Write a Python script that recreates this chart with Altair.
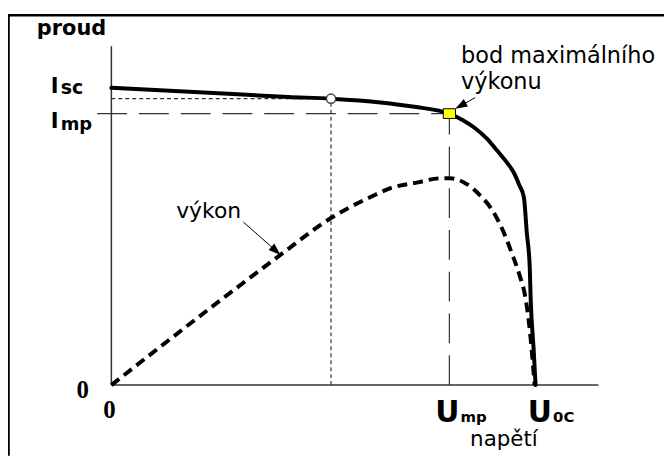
import altair as alt
import pandas as pd

# ---------------- data (schematic units: napětí 0..100, proud 0..100) ----------------
# I-V characteristic (solid curve)
iv_u = [0, 18.0, 36.3, 45.1, 55.3, 62.2, 69.4, 72.0, 74.5, 77.1, 79.2, 81.2, 82.7, 83.7, 84.7, 85.3, 85.9, 86.1, 86.7, 87.1]
iv_i = [87.7, 86.4, 85.0, 84.5, 83.4, 82.1, 80.1, 78.3, 76.0, 72.7, 69.2, 65.7, 62.5, 59.2, 55.4, 44.9, 34.9, 25.2, 10.6, 0.0]

# power curve (dashed curve)
pw_u = [0, 23.1, 34.7, 45.1, 48.6, 53.1, 57.3, 62.9, 67.6, 69.6, 72.4, 75.7, 78.6, 80.6, 82.2, 83.9, 84.9, 85.9, 86.9]
pw_p = [0, 25.8, 38.4, 49.3, 52.2, 55.4, 58.1, 59.8, 61.0, 61.0, 59.8, 56.0, 50.7, 44.9, 39.0, 32.0, 26.7, 16.4, 0.0]

# special points
U_MP, I_MP = 69.4, 80.1      # bod maximálního výkonu
U_DOT, I_DOT = 45.1, 84.5    # open circle on the curve
AXIS_END = 100

# arrows: tail (u, v) -> head centre (u, v), head angle (deg)
arrow_u = [74.7, 27.1]
arrow_v = [84.8, 48.1]
arrow_u2 = [71.7, 33.8]
arrow_v2 = [82.4, 39.6]
arrow_angle = [241, 132]

# text labels
word_text = ["bod maximálního", "výkonu", "výkon"]
word_u = [71.8, 71.8, 13.3]
word_v = [94.9, 87.5, 49.3]

main_sym = ["I", "I"]
main_sym_u = [-12.45, -12.45]
main_sym_v = [86.2, 75.7]
sub_sym = ["sc", "mp"]
sub_sym_u = [-10.4, -10.4]
sub_sym_v = [85.9, 75.4]

u_sym = ["U", "U"]
u_sym_u = [66.5, 85.5]
u_sym_v = [-10.85, -10.85]
u_sub = ["mp", "0C"]
u_sub_u = [71.7, 90.7]
u_sub_v = [-10.85, -10.85]

zero_text = ["0", "0"]
zero_u = [-5.9, -0.4]
zero_v = [-1.5, -7.5]

# ---------------- layout ----------------
W, H = 660, 449
x_dom = [-104 / 4.9, (W - 104) / 4.9]
y_dom = [(378 - H) / 3.41, 378 / 3.41]
xs = alt.Scale(domain=x_dom, nice=False, zero=False)
ys = alt.Scale(domain=y_dom, nice=False, zero=False)


def X(f="u"):
    return alt.X(f"{f}:Q", scale=xs, axis=None)


def Y(f="v"):
    return alt.Y(f"{f}:Q", scale=ys, axis=None)


def rules(u, u2, v, v2, **kw):
    df = pd.DataFrame({"u": u, "u2": u2, "v": v, "v2": v2})
    return alt.Chart(df).mark_rule(**kw).encode(
        x=X(), x2=alt.X2("u2:Q"), y=Y(), y2=alt.Y2("v2:Q"))


def label(texts, us, vs, size, weight="normal", font="DejaVu Sans", align="left", baseline="alphabetic"):
    df = pd.DataFrame({"t": texts, "u": us, "v": vs})
    return alt.Chart(df).mark_text(
        align=align, baseline=baseline, fontSize=size, fontWeight=weight,
        font=font, color="black").encode(x=X(), y=Y(), text="t:N")


one = pd.DataFrame({"a": [0]})
frame_top = alt.Chart(one).mark_rule(color="black", strokeWidth=2.6).encode(
    x=alt.value(0), x2=alt.value(W), y=alt.value(6))
frame_left = alt.Chart(one).mark_rule(color="black", strokeWidth=2.6).encode(
    x=alt.value(0.5), y=alt.value(6), y2=alt.value(H))

axes = rules([0, 0], [0, AXIS_END], [0, 0], [AXIS_END, 0], color="#333", strokeWidth=1.5)

dotted = rules([0, U_DOT], [U_DOT, U_DOT], [I_DOT, 0], [I_DOT, I_DOT],
               color="#333", strokeWidth=1.2, strokeDash=[4, 3])
dashed = rules([-2.9, U_MP], [U_MP, U_MP], [I_MP, 0], [I_MP, I_MP],
               color="#333", strokeWidth=1.2, strokeDash=[30, 12])

power = alt.Chart(pd.DataFrame({"u": pw_u, "v": pw_p})).mark_line(
    color="black", strokeWidth=4, strokeDash=[10, 6], interpolate="monotone").encode(x=X(), y=Y())

iv = alt.Chart(pd.DataFrame({"u": iv_u, "v": iv_i})).mark_line(
    color="black", strokeWidth=4, interpolate="monotone", strokeCap="round").encode(x=X(), y=Y())

circle = alt.Chart(pd.DataFrame({"u": [U_DOT], "v": [I_DOT]})).mark_point(
    shape="circle", size=85, filled=True, fill="white", stroke="#444", strokeWidth=1.5, opacity=1
).encode(x=X(), y=Y())

square = alt.Chart(pd.DataFrame({"u": [U_MP], "v": [I_MP]})).mark_point(
    shape="M-1,-0.8H1V0.8H-1Z", size=150, filled=True, fill="#FFFF00", stroke="black",
    strokeWidth=1, opacity=1
).encode(x=X(), y=Y())

arrow_lines = rules(arrow_u, arrow_u2, arrow_v, arrow_v2, color="black", strokeWidth=1)
arrow_heads = alt.Chart(pd.DataFrame({"u": arrow_u2, "v": arrow_v2, "ang": arrow_angle})).mark_point(
    shape="M0,-1L-0.7,1L0.7,1Z", size=150, filled=True, color="black", opacity=1
).encode(x=X(), y=Y(), angle=alt.Angle("ang:Q", scale=None))

texts = [
    label(["proud"], [-15.3], [103.2], 21, weight="bold"),
    label(word_text[:2], word_u[:2], word_v[:2], 22.5),
    label(word_text[2:], word_u[2:], word_v[2:], 22),
    label(["napětí"], [80.6], [-17.9], 21.5, align="center"),
    label(main_sym, main_sym_u, main_sym_v, 21, weight="bold"),
    label(sub_sym[:1], sub_sym_u[:1], sub_sym_v[:1], 19, weight="bold"),
    label(sub_sym[1:], sub_sym_u[1:], sub_sym_v[1:], 18, weight="bold"),
    label(u_sym, u_sym_u, u_sym_v, 30, weight="bold"),
    label(u_sub, u_sub_u, u_sub_v, 15, weight="bold"),
    label(zero_text, zero_u, zero_v, 25, weight="bold", font="Liberation Serif",
          align="center", baseline="middle"),
]

chart = alt.layer(
    frame_top, frame_left, axes, dotted, dashed, power, iv, circle, square,
    arrow_lines, arrow_heads, *texts
).properties(
    width=W, height=H, padding=0, background="white",
    autosize=alt.AutoSizeParams(type="none")
).configure_view(strokeWidth=0)

chart.save("out.html", embed_options={"renderer": "svg", "actions": False})
